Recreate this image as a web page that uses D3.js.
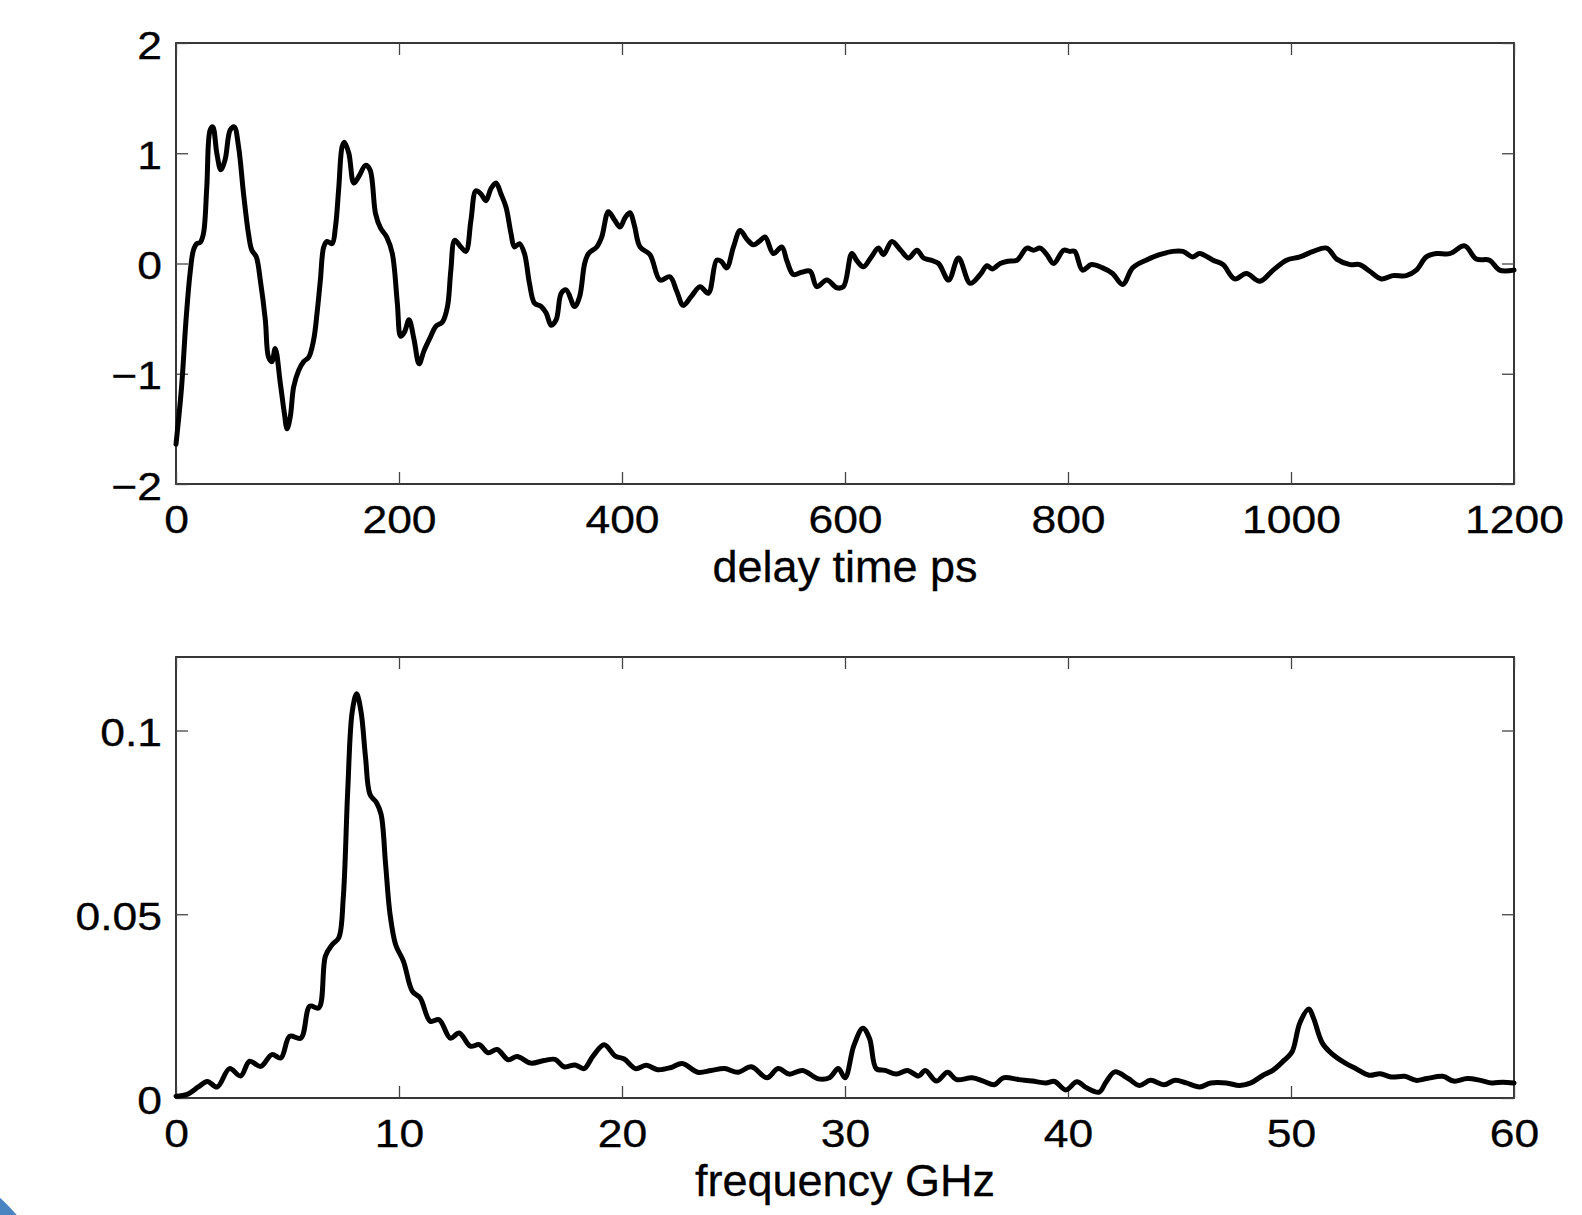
<!DOCTYPE html>
<html>
<head>
<meta charset="utf-8">
<script src="https://cdn.jsdelivr.net/npm/d3@7"></script>
<style>
  body { margin: 0; background: #fff; }
  svg { display: block; }
  .tick text { font-family: "Liberation Sans", Arial, sans-serif; font-size: 38px; fill: #000;
               stroke: #000; stroke-width: 0.3px;
               transform-box: fill-box; transform: scaleX(1.17); }
  .xaxis .tick text { transform-origin: 50% 50%; }
  .yaxis .tick text { transform-origin: 100% 50%; }
  .tick line { stroke: #444; stroke-width: 1.3px; }
  .axlabel { font-family: "Liberation Sans", Arial, sans-serif; font-size: 45px; fill: #000; stroke: #000; stroke-width: 0.3px; }
</style>
</head>
<body>
<svg id="chart" width="1582" height="1215"></svg>
<script>
// top panel: delay time (ps) vs signal
var delayPs = [0,5,9,12.6,15.6,18.6,21.6,24.6,27.6,30.6,33,36.6,40.2,44,48.6,52.2,56.1,60.6,65,68,72,75.6,80.1,83,86,89,93.6,97.2,99.6,102.5,105.5,110,114.5,119,123.5,126.5,129.5,132.5,135.5,140,143,146,149,151,155,159.5,164,170,174,179,183.5,189,194,198.5,201.5,205,209,213.5,218,222.5,228.5,233,239,243.5,246.5,250,255.5,260,264.5,269,273.5,278,282.5,287,291.5,296,300.5,303.5,308,312.5,317,321.5,327.5,332,336.5,341,345.5,350,357.5,362,366.5,370,377.3,381.8,387.8,393,398.2,403,407.2,411,416.2,425.1,434.1,443,449,455,462,470,477.4,484.9,489,493.9,500,505.9,512,517.8,523,528.3,535.8,543.3,548,553.7,561,568.7,574.7,583.7,592.6,598.6,606.1,611,616.6,623,630,634.5,642,650,657,664.5,670.4,677,683.9,692.9,701.8,712.3,721.3,727.3,732,739.2,746,754.2,763.1,769,775.1,781,787.1,796.1,801.5,806,813,821,831,840,849,858,870,882,894,903,912,918,930,939,949.5,960,972,984,996,1008,1020,1032,1041,1053,1061.6,1070.6,1081,1091.5,1103.4,1112.4,1121.4,1130.3,1142.3,1155.8,1166.2,1178,1187,1200];
var delaySignal = [-1.64,-1.12,-0.51,-0.09,0.12,0.18,0.19,0.27,0.69,1.21,1.24,1.0,0.85,0.94,1.21,1.24,1.06,0.63,0.27,0.12,0.06,-0.15,-0.51,-0.85,-0.89,-0.77,-1.09,-1.36,-1.50,-1.39,-1.12,-0.97,-0.89,-0.85,-0.69,-0.45,-0.15,0.15,0.20,0.18,0.33,0.69,1.06,1.10,1.0,0.73,0.79,0.89,0.85,0.45,0.32,0.24,0.09,-0.36,-0.66,-0.62,-0.51,-0.69,-0.91,-0.79,-0.66,-0.57,-0.53,-0.39,-0.06,0.21,0.15,0.11,0.39,0.66,0.63,0.57,0.68,0.73,0.63,0.51,0.27,0.15,0.18,0.09,-0.18,-0.36,-0.39,-0.45,-0.56,-0.51,-0.27,-0.24,-0.39,-0.30,0.0,0.09,0.15,0.24,0.47,0.40,0.33,0.42,0.46,0.35,0.15,0.08,-0.15,-0.12,-0.25,-0.38,-0.30,-0.21,-0.27,0.03,0.02,-0.04,0.15,0.30,0.22,0.17,0.2,0.24,0.09,0.15,0.02,-0.10,-0.08,-0.07,-0.21,-0.15,-0.22,-0.21,0.09,0.02,-0.03,0.05,0.14,0.08,0.2,0.12,0.05,0.12,0.05,0.03,0.0,-0.15,0.05,-0.18,-0.10,-0.02,-0.05,0.0,0.02,0.03,0.14,0.12,0.14,0.08,0.0,0.12,0.11,0.11,-0.06,-0.01,-0.04,-0.09,-0.19,-0.04,0.03,0.08,0.11,0.11,0.06,0.09,0.03,-0.01,-0.14,-0.09,-0.16,-0.06,0.03,0.06,0.11,0.14,0.04,-0.01,-0.01,-0.07,-0.14,-0.11,-0.11,-0.06,0.06,0.09,0.09,0.16,0.04,0.03,-0.06,-0.06];
var delayTicks = [0,200,400,600,800,1000,1200];
var signalTicks = [-2,-1,0,1,2];

// bottom panel: frequency (GHz) vs spectrum
var freqGHz = [0,0.5,1.0,1.4,1.85,2.4,2.9,3.3,3.8,4.3,4.7,5.1,5.6,6.0,6.4,6.7,7.0,7.3,7.5,7.7,7.9,8.1,8.3,8.5,8.7,9.0,9.2,9.4,9.6,9.85,10.2,10.6,10.95,11.4,11.8,12.3,12.7,13.2,13.6,14.0,14.4,14.9,15.3,15.9,16.5,17.0,17.4,17.9,18.3,18.7,19.2,19.7,20.1,20.6,21.1,21.6,22.2,22.7,23.4,24.0,24.6,25.2,25.8,26.5,27.0,27.5,28.1,28.8,29.3,29.7,30.0,30.4,30.8,31.1,31.4,31.8,32.3,32.8,33.3,33.6,34.1,34.6,35.0,35.7,36.2,36.7,37.1,37.8,38.4,39.0,39.4,39.9,40.4,40.85,41.4,41.7,42.1,42.7,43.2,43.7,44.3,44.8,45.3,45.9,46.4,47.1,47.7,48.2,48.75,49.2,49.7,50.05,50.4,50.8,51.0,51.4,51.8,52.4,52.9,53.5,54.0,54.5,55.1,55.6,56.1,56.8,57.3,57.9,58.5,59.0,59.5,60.0];
var spectrum = [0.0005,0.001,0.003,0.0045,0.003,0.008,0.006,0.010,0.0086,0.0118,0.0109,0.0168,0.0163,0.025,0.0245,0.0386,0.0417,0.0436,0.0544,0.0835,0.105,0.110,0.105,0.0926,0.0826,0.0803,0.0771,0.0635,0.0499,0.0417,0.0372,0.029,0.0272,0.0209,0.0213,0.0163,0.0177,0.0141,0.0145,0.0123,0.0132,0.0104,0.0113,0.0095,0.0102,0.0105,0.0085,0.009,0.008,0.0114,0.0145,0.0114,0.0106,0.008,0.0089,0.0077,0.0083,0.0094,0.007,0.0075,0.008,0.007,0.0085,0.0055,0.008,0.0065,0.0075,0.0052,0.0055,0.008,0.0055,0.0143,0.019,0.0162,0.008,0.0075,0.0065,0.0075,0.006,0.0075,0.0046,0.007,0.005,0.0055,0.0046,0.0036,0.0055,0.005,0.0046,0.0041,0.0045,0.0022,0.0044,0.0027,0.0016,0.0043,0.0071,0.0053,0.0034,0.0048,0.0036,0.0048,0.0041,0.003,0.0041,0.0041,0.0034,0.0041,0.0062,0.0076,0.0103,0.0126,0.0205,0.0242,0.0219,0.015,0.0122,0.0096,0.008,0.0062,0.0066,0.0057,0.0059,0.0048,0.0053,0.0059,0.0046,0.0053,0.0048,0.0041,0.0043,0.0041];
var freqTicks = [0,10,20,30,40,50,60];
var spectrumTicks = [0,0.05,0.1];

var svg = d3.select("#chart");

// blue corner shape at bottom left
svg.append("circle")
    .attr("cx", -150).attr("cy", 1360).attr("r", 221)
    .attr("fill", "#4a85c1");

function drawPanel(top, xs, ys, xDomain, yDomain, xTicks, yTicks, yFmt, label) {
  var left = 176, right = 1514, h = 441;
  var x = d3.scaleLinear().domain(xDomain).range([left, right]);
  var y = d3.scaleLinear().domain(yDomain).range([top + h, top]);
  var g = svg.append("g");

  // box
  g.append("rect")
      .attr("x", left).attr("y", top)
      .attr("width", right - left).attr("height", h)
      .attr("fill", "none").attr("stroke", "#222").attr("stroke-width", 1.8);

  var xa = g.append("g").attr("class", "xaxis")
      .attr("transform", "translate(0," + (top + h) + ")")
      .call(d3.axisBottom(x).tickValues(xTicks).tickSizeInner(-12).tickSizeOuter(0).tickFormat(d3.format("d")));
  xa.selectAll(".tick text").attr("y", 49).attr("dy", null);

  g.append("g").attr("class", "xaxis")
      .attr("transform", "translate(0," + top + ")")
      .call(d3.axisTop(x).tickValues(xTicks).tickSizeInner(-12).tickSizeOuter(0).tickFormat(""));

  var ya = g.append("g").attr("class", "yaxis")
      .attr("transform", "translate(" + left + ",0)")
      .call(d3.axisLeft(y).tickValues(yTicks).tickSizeInner(-12).tickSizeOuter(0).tickFormat(yFmt));
  ya.selectAll(".tick text").attr("x", -14).attr("dy", "0.4em");

  g.append("g").attr("class", "yaxis")
      .attr("transform", "translate(" + right + ",0)")
      .call(d3.axisRight(y).tickValues(yTicks).tickSizeInner(-12).tickSizeOuter(0).tickFormat(""));

  g.selectAll(".domain").remove();
  g.selectAll(".tick text").attr("font-family", null).attr("font-size", null).attr("fill", null);

  g.append("text")
      .attr("class", "axlabel")
      .attr("x", (left + right) / 2)
      .attr("y", top + h + 98)
      .attr("text-anchor", "middle")
      .text(label);

  var line = d3.line()
      .x(function(d){ return x(d[0]); })
      .y(function(d){ return y(d[1]); })
      .curve(d3.curveCatmullRom.alpha(0.5));

  g.append("path")
      .datum(xs.map(function(v, i){ return [v, ys[i]]; }))
      .attr("d", line)
      .attr("fill", "none")
      .attr("stroke", "#000")
      .attr("stroke-width", 5)
      .attr("stroke-linejoin", "round")
      .attr("stroke-linecap", "round");
}

drawPanel(43, delayPs, delaySignal, [0, 1200], [-2, 2], delayTicks, signalTicks, d3.format("d"), "delay time ps");
drawPanel(657, freqGHz, spectrum, [0, 60], [0, 0.12], freqTicks, spectrumTicks, d3.format("~g"), "frequency GHz");
</script>
</body>
</html>
